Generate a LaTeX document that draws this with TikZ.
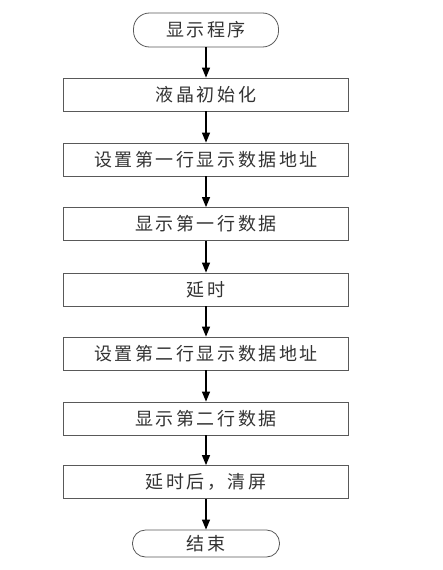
\documentclass[tikz,border=0pt]{standalone}
\usepackage{fontspec}
\newfontfamily\cjk[LetterSpace=14]{Noto Sans CJK SC}
\usetikzlibrary{arrows.meta}
\begin{document}
\begin{tikzpicture}[x=1pt,y=-1pt,
  box/.style={draw=black!65,line width=0.8pt,minimum width=285pt,minimum height=33pt,inner sep=0pt,font=\cjk\fontsize{18}{20}\selectfont,text=black!80},
  term/.style={box,rounded corners=16pt,minimum width=145pt},
  flow/.style={line width=1.2pt,-{Triangle[width=8pt,length=10pt]}}]
\useasboundingbox (0,0) rectangle (443,570);
\node[term,minimum height=34pt] (s) at (206,30) {显示程序};
\node[box] (r1) at (206,94.5) {液晶初始化};
\node[box] (r2) at (206,159.5) {设置第一行显示数据地址};
\node[box] (r3) at (206,224) {显示第一行数据};
\node[box] (r4) at (206,289.5) {延时};
\node[box] (r5) at (206,353.5) {设置第二行显示数据地址};
\node[box] (r6) at (206,418.5) {显示第二行数据};
\node[box] (r7) at (206,482) {延时后，清屏};
\node[term,minimum height=27pt,minimum width=147pt,rounded corners=13pt] (e) at (206,543.5) {结束};
\draw[flow] (s) -- (r1);
\draw[flow] (r1) -- (r2);
\draw[flow] (r2) -- (r3);
\draw[flow] (r3) -- (r4);
\draw[flow] (r4) -- (r5);
\draw[flow] (r5) -- (r6);
\draw[flow] (r6) -- (r7);
\draw[flow] (r7) -- (e);
\end{tikzpicture}
\end{document}
